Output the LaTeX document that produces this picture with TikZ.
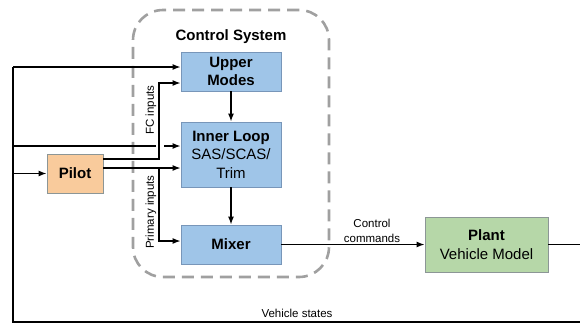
\documentclass[tikz,border=0pt]{standalone}
\usepackage{fontspec}
\setmainfont{Liberation Sans}
\usetikzlibrary{arrows.meta}
\definecolor{bluefill}{RGB}{159,197,232}
\definecolor{blueline}{RGB}{120,150,185}
\definecolor{orangefill}{RGB}{249,203,156}
\definecolor{greenfill}{RGB}{182,215,168}
\definecolor{greyline}{RGB}{140,150,150}
\definecolor{dashgrey}{RGB}{160,160,160}
\begin{document}
\begin{tikzpicture}[x=1pt,y=-1pt,
  blk/.style={draw=blueline,fill=bluefill,line width=0.9pt,minimum width=100pt,inner sep=0pt,align=center,font=\fontsize{15}{18.5}\selectfont},
  pilotbox/.style={draw=greyline,fill=orangefill,line width=0.9pt,minimum width=56pt,minimum height=39pt,inner sep=0pt,font=\fontsize{15}{18}\selectfont\bfseries},
  plantbox/.style={draw=greyline,fill=greenfill,line width=0.9pt,minimum width=123pt,minimum height=55pt,inner sep=0pt,align=center,font=\fontsize{15}{19}\selectfont},
  csbox/.style={draw=dashgrey,line width=2.6pt,dash pattern=on 12pt off 7pt,rounded corners=30pt,minimum width=196pt,minimum height=267pt,inner sep=0pt},
  conn/.style={line width=1.2pt,-{Latex[length=8pt,width=6pt]}},
  wire/.style={line width=1.2pt},
  small/.style={font=\fontsize{11.5}{15}\selectfont,inner sep=0pt,align=center}]
\useasboundingbox (0,0) rectangle (580,325);
% dashed control system box
\node[csbox] (cs) at (231,143.5) {};
\node[font=\fontsize{15}{17}\selectfont\bfseries,inner sep=0pt] (cstitle) at (231,37) {Control System};
% blocks
\node[blk,minimum height=39pt] (um) at (231,71.5) {\textbf{Upper}\\\textbf{Modes}};
\node[blk,minimum height=65pt] (il) at (231,154.5) {\textbf{Inner Loop}\\SAS/SCAS/\\Trim};
\node[blk,minimum height=39pt] (mx) at (231,244.5) {\textbf{Mixer}};
\node[pilotbox] (pilot) at (75,173.5) {Pilot};
\node[plantbox] (plant) at (486.5,244.5) {\textbf{Plant}\\Vehicle Model};
% coordinates
\coordinate (fbtop) at (13,67);
\coordinate (fbbot) at (13,322);
\coordinate (fbright) at (585,322);
\coordinate (plantout) at (585,244.5);
\coordinate (b1) at (13,146);
\coordinate (b1end) at (156,146);
\coordinate (b1start) at (164,146);
\coordinate (b2) at (13,173.5);
\coordinate (fcA) at (103,159);
\coordinate (fcB) at (159,159);
\coordinate (fcC) at (159,83);
\coordinate (prA) at (103,168);
\coordinate (prB) at (159,168);
\coordinate (prC) at (159,241);
% feedback loop
\draw[wire] (plant.east) -- (plantout) -- (fbright) -- (fbbot) -- (fbtop);
\draw[conn] (fbtop) -- (fbtop -| um.west);
\draw[wire] (b1) -- (b1end);
\draw[conn] (b1start) -- (b1start -| il.west);
\draw[conn] (b2) -- (pilot.west);
% FC inputs
\draw[conn] (fcA) -- (fcB) -- (fcC) -- (fcC -| um.west);
% primary inputs
\draw[conn] (prA) -- (prA -| il.west);
\draw[conn] (prB) -- (prC) -- (prC -| mx.west);
% internal
\draw[conn] (um.south) -- (il.north);
\draw[conn] (il.south) -- (mx.north);
\draw[conn] (mx.east) -- (plant.west);
% labels
\node[small,rotate=90] (fclab) at (151,110) {FC inputs};
\node[small,rotate=90] (prlab) at (151,212) {Primary inputs};
\node[small] (cclab) at (372,231) {Control\\commands};
\node[small] (vslab) at (297,313) {Vehicle states};
\end{tikzpicture}
\end{document}
